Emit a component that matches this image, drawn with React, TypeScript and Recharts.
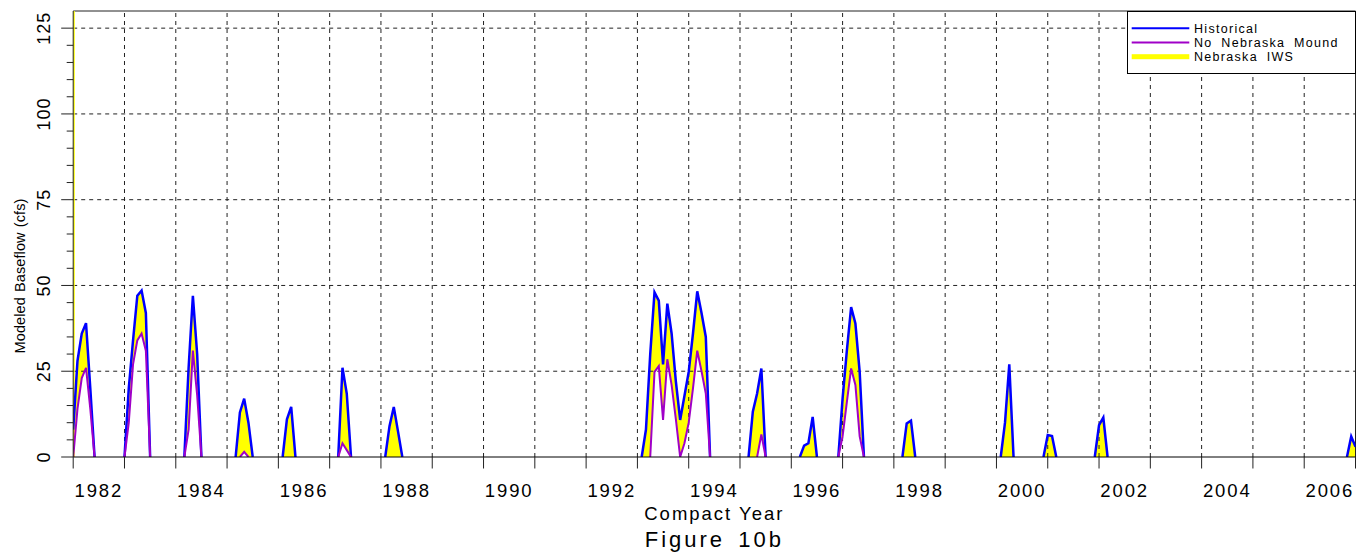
import React from 'react';
import { ComposedChart, Area, Line, XAxis, YAxis, ReferenceLine, Legend } from 'recharts';

// ---------- data ----------
const START_YEAR = 1982;
const END_YEAR = 2007;
const LAST_MONTH_INDEX = 300; // months since 1982.0

// month index (from 1982.0) where each flow episode starts
const EPISODE_START_MONTH = [0, 12, 26, 38, 49, 62, 73, 133, 158, 170, 179, 194, 217, 227, 239, 298];

// Historical baseflow (cfs), monthly, per episode
const HISTORICAL = [
  [8, 28, 36, 39, 20, 0],
  [0, 20, 34, 47, 48.5, 42, 0],
  [0, 26, 47, 30, 0],
  [0, 13, 17, 10, 0],
  [0, 11, 14.6, 0],
  [0, 26, 18.5, 0],
  [0, 9, 14.6, 7.4, 0],
  [0, 8, 30, 48, 45.6, 27, 44.7, 36, 22, 10.8, 17.8, 24.8, 36, 48.3, 42, 35, 0],
  [0, 13.2, 18.5, 25.8, 0],
  [0, 3.3, 4, 11.7, 0],
  [0, 17, 31, 43.7, 38.9, 24.8, 0],
  [0, 9.8, 10.6, 0],
  [0, 10, 27, 0],
  [0, 6.4, 6.1, 0],
  [0, 9.3, 11.5, 0],
  [0, 6, 3],
];

// No Nebraska Mound baseflow (cfs), monthly, per episode
const NO_MOUND = [
  [0, 14, 23, 26, 14, 0],
  [0, 10, 27, 34, 36, 31, 0],
  [0, 8, 31, 18, 0],
  [0, 0, 1.5, 0, 0],
  [],
  [0, 4, 2, 0],
  [],
  [0, 0, 0, 24.8, 26.5, 10.8, 28.5, 21, 11, 0, 4, 10, 20, 31, 25, 18.5, 0],
  [0, 0, 0, 6.6, 0],
  [],
  [0, 6, 16, 25.8, 21, 6, 0],
  [],
  [],
  [],
  [],
  [],
];

const SERIES_NAMES = ['Historical', 'No Nebraska Mound', 'Nebraska IWS'];
const SERIES_COLORS = ['#0000ff', '#a000c8', '#ffff00'];

const Y_TICKS = Array.from({ length: 26 }, (_, i) => i * 5); // 0..125 step 5
const Y_GRID = [25, 50, 75, 100, 125];
const YEAR_LINES = Array.from({ length: END_YEAR - START_YEAR - 1 }, (_, i) => START_YEAR + 1 + i); // 1983..2006
const LABEL_YEARS = [1982, 1984, 1986, 1988, 1990, 1992, 1994, 1996, 1998, 2000, 2002, 2004, 2006];

// ---------- build table ----------
function buildSeries(episodes: number[][]): (number | null)[] {
  const arr: (number | null)[] = Array(LAST_MONTH_INDEX + 1).fill(null);
  EPISODE_START_MONTH.forEach((s, i) => {
    episodes[i].forEach((v, k) => {
      arr[s + k] = v;
    });
  });
  // drop zero runs lying on the axis (keep zeros that end a rising/falling segment)
  return arr.map((v, i) => {
    if (v !== 0) return v;
    const p = i > 0 ? arr[i - 1] : null;
    const n = i < arr.length - 1 ? arr[i + 1] : null;
    if ((p === null || p === 0) && (n === null || n === 0)) return null;
    return v;
  });
}

const histSeries = buildSeries(HISTORICAL);
const moundSeries = buildSeries(NO_MOUND);

const data = histSeries.map((h, m) => ({
  x: START_YEAR + m / 12,
  hist: h,
  mound: moundSeries[m],
  band: [moundSeries[m] ?? 0, h ?? 0],
}));

const X_TICKS = [
  ...Array.from({ length: END_YEAR - START_YEAR + 1 }, (_, i) => START_YEAR + i),
  ...LABEL_YEARS.map((y) => y + 0.5),
];

// ---------- styling ----------
const FONT = '"Liberation Sans", Arial, sans-serif';
const AXIS_COLOR = '#222';

const XTick = (props: any) => {
  const { x, y, payload } = props;
  const v = payload.value as number;
  if (Number.isInteger(v)) {
    return <line x1={x} x2={x} y1={y} y2={y + 11.5} stroke={AXIS_COLOR} strokeWidth={1} />;
  }
  return (
    <text x={x} y={y + 40} textAnchor="middle" fontFamily={FONT} fontSize={18.5} letterSpacing={1.9} fill="#000">
      {Math.floor(v)}
    </text>
  );
};

const YTick = (props: any) => {
  const { x, y, payload } = props;
  const v = payload.value as number;
  const major = v % 25 === 0;
  const cx = x - 30;
  return (
    <g>
      <line x1={x - (major ? 12 : 6.5)} x2={x} y1={y} y2={y} stroke={AXIS_COLOR} strokeWidth={1} />
      {major && (
        <text
          x={cx}
          y={y}
          dy="0.36em"
          textAnchor="middle"
          transform={`rotate(-90 ${cx} ${y})`}
          fontFamily={FONT}
          fontSize={18}
          letterSpacing={1}
          fill="#000"
        >
          {v}
        </text>
      )}
    </g>
  );
};

const YLabel = (props: any) => {
  const vb = props.viewBox || { x: 0, y: 3, width: 65, height: 446 };
  const cx = vb.x + 12;
  const cy = vb.y + 265;
  return (
    <text
      x={cx}
      y={cy}
      dy="0.36em"
      textAnchor="middle"
      transform={`rotate(-90 ${cx} ${cy})`}
      fontFamily={FONT}
      fontSize={14.5}
      letterSpacing={0.1}
      wordSpacing={1}
      fill="#000"
    >
      Modeled Baseflow (cfs)
    </text>
  );
};

const XLabel = (props: any) => {
  const vb = props.viewBox || { x: 65, y: 449, width: 1282, height: 96 };
  const cx = vb.x + vb.width / 2;
  return (
    <g>
      <text x={cx} y={vb.y + 63} textAnchor="middle" fontFamily={FONT} fontSize={18.5} letterSpacing={2} fill="#000">
        Compact Year
      </text>
      <text x={cx} y={vb.y + 89.7} textAnchor="middle" fontFamily={FONT} fontSize={22} letterSpacing={3} wordSpacing={4} fill="#000">
        Figure 10b
      </text>
    </g>
  );
};

const LegendBox = () => (
  <svg width={229} height={63} style={{ display: 'block' }}>
    <rect x={0.5} y={0.5} width={228} height={62} fill="#fff" stroke="#000" strokeWidth={1} />
    {SERIES_NAMES.map((name, i) => {
      const cy = 17.3 + i * 14.2;
      return (
        <g key={name}>
          {i < 2 ? (
            <line x1={4.7} x2={62.3} y1={cy} y2={cy} stroke={SERIES_COLORS[i]} strokeWidth={2} />
          ) : (
            <rect x={4.7} y={cy - 2.5} width={57.6} height={5} fill={SERIES_COLORS[i]} />
          )}
          <text x={67} y={cy + 4.6} fontFamily={FONT} fontSize={12.5} letterSpacing={1.3} wordSpacing={4} fill="#000">
            {name}
          </text>
        </g>
      );
    })}
  </svg>
);

export default function App() {
  const W = 1362;
  const H = 545;
  return (
    <div style={{ width: W, height: H, position: 'relative' }}>
      <ComposedChart width={W} height={H} data={data} margin={{ top: 3, right: 14.5, left: 0, bottom: 0 }}>
        <XAxis
          type="number"
          dataKey="x"
          domain={[START_YEAR, END_YEAR]}
          ticks={X_TICKS}
          interval={0}
          tickSize={0}
          tickMargin={0}
          tick={<XTick />}
          height={96}
          axisLine={{ stroke: '#000', strokeWidth: 1 }}
          tickLine={false}
          allowDataOverflow
          label={<XLabel />}
        />
        <YAxis
          type="number"
          domain={[0, 130]}
          ticks={Y_TICKS}
          interval={0}
          tickSize={0}
          tickMargin={0}
          tick={<YTick />}
          width={65.2}
          axisLine={{ stroke: AXIS_COLOR, strokeWidth: 1 }}
          tickLine={false}
          allowDataOverflow
          label={<YLabel />}
        />
        {YEAR_LINES.map((yr) => (
          <ReferenceLine key={'v' + yr} x={yr} stroke="#222" strokeDasharray="4 4" strokeWidth={1} />
        ))}
        {Y_GRID.map((v) => (
          <ReferenceLine key={'h' + v} y={v} stroke="#222" strokeDasharray="4 4" strokeWidth={1} />
        ))}
        <ReferenceLine y={130} stroke={AXIS_COLOR} strokeWidth={1} />
        <ReferenceLine x={END_YEAR} stroke={AXIS_COLOR} strokeWidth={1} />
        <ReferenceLine x={START_YEAR + 0.016} stroke="#ffff00" strokeWidth={1.5} />
        <Area
          type="linear"
          dataKey="band"
          name={SERIES_NAMES[2]}
          stroke="none"
          fill={SERIES_COLORS[2]}
          fillOpacity={1}
          isAnimationActive={false}
          activeDot={false}
        />
        <Line
          type="linear"
          dataKey="hist"
          name={SERIES_NAMES[0]}
          stroke={SERIES_COLORS[0]}
          strokeWidth={2.5}
          dot={false}
          activeDot={false}
          isAnimationActive={false}
        />
        <Line
          type="linear"
          dataKey="mound"
          name={SERIES_NAMES[1]}
          stroke={SERIES_COLORS[1]}
          strokeWidth={2}
          dot={false}
          activeDot={false}
          isAnimationActive={false}
        />
        <Legend
          layout="horizontal"
          verticalAlign="middle"
          align="center"
          content={<LegendBox />}
          wrapperStyle={{ position: 'absolute', left: 1119, top: 3, width: 229, height: 63, right: 'auto', bottom: 'auto' }}
        />
      </ComposedChart>
    </div>
  );
}
